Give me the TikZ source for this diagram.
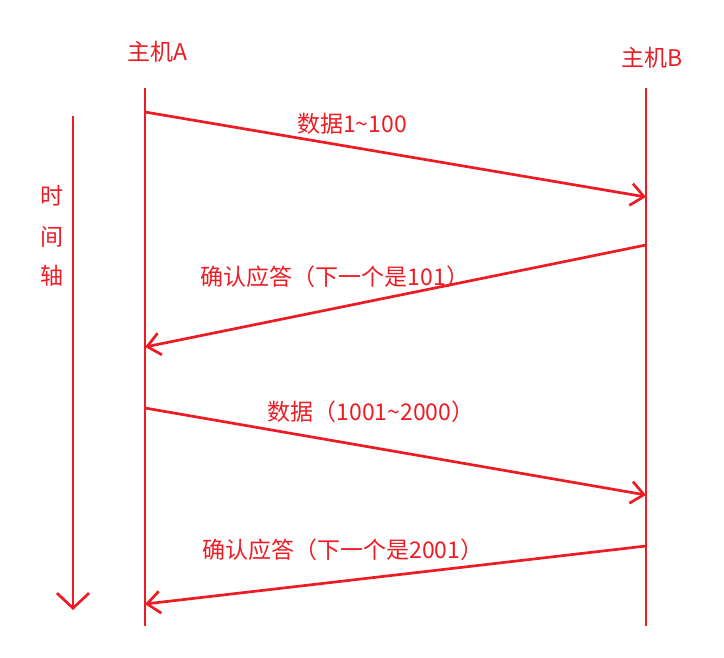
\documentclass[tikz,border=0pt]{standalone}
\usepackage{fontspec}
\setmainfont{Noto Sans CJK SC}
\usepackage{xcolor}
\usetikzlibrary{arrows.meta}
\definecolor{paintred}{RGB}{237,28,36}

\begin{document}
\begin{tikzpicture}[x=1pt,y=-1pt,
  font=\fontsize{23}{27}\selectfont,
  every node/.style={text=paintred, inner sep=0pt},
  lifeline/.style={draw=paintred, line width=2.7pt},
  msg/.style={draw=paintred, line width=2.7pt, -{Straight Barb[length=13pt,width=22pt,line width=2.7pt]}}]
\useasboundingbox (0,0) rectangle (724,657);

% hosts
\node (hostA) at (157,52) {主机A};
\node (hostB) at (652,58) {主机B};
\coordinate (A top) at (145,88);
\coordinate (A bot) at (145,626);
\coordinate (B top) at (646,88);
\coordinate (B bot) at (646,626);
\draw[lifeline] (A top) -- (A bot);
\draw[lifeline] (B top) -- (B bot);

% time axis
\coordinate (t top) at (73,116);
\coordinate (t bot) at (73,610);
\draw[draw=paintred, line width=2.7pt, -{Straight Barb[length=15pt,width=32pt,line width=2.7pt]}] (t top) -- (t bot);
\node (t1) at (52,196) {时};
\node (t2) at (52,237) {间};
\node (t3) at (52,276) {轴};

% messages
\coordinate (m1s) at (145,112);
\coordinate (m1e) at (646,197);
\coordinate (m2s) at (646,245);
\coordinate (m2e) at (145,347);
\coordinate (m3s) at (145,408);
\coordinate (m3e) at (646,495);
\coordinate (m4s) at (646,546);
\coordinate (m4e) at (145,604);
\draw[msg] (m1s) -- (m1e);
\draw[msg] (m2s) -- (m2e);
\draw[msg] (m3s) -- (m3e);
\draw[msg] (m4s) -- (m4e);

\node (l1) at (352,124) {数据1\textasciitilde{}100};
\node (l2) at (335,277) {确认应答（下一个是101）};
\node (l3) at (371,412) {数据（1001\textasciitilde{}2000）};
\node (l4) at (343,550) {确认应答（下一个是2001）};

\end{tikzpicture}
\end{document}
